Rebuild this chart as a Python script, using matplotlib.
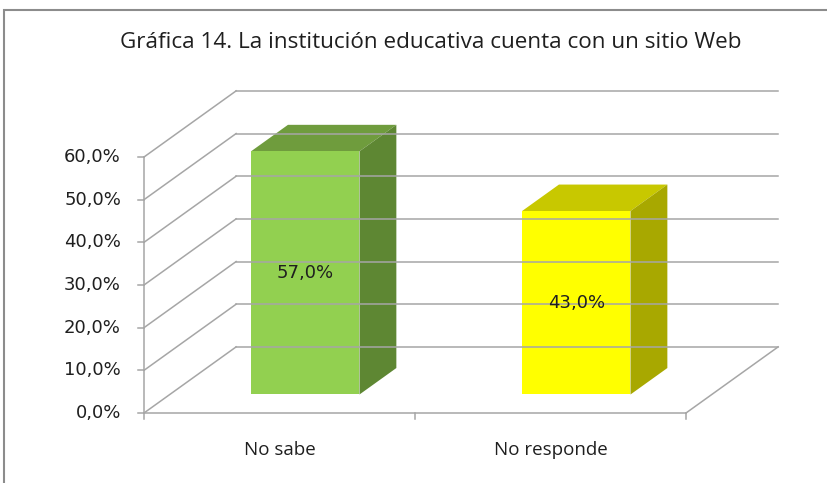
import matplotlib.pyplot as plt
from matplotlib.patches import Polygon, Rectangle

# Data
categories = ["No sabe", "No responde"]
values = [57.0, 43.0]
front_colors = ["#92D050", "#FFFF00"]
side_colors = ["#5E8733", "#A8A800"]
top_colors = ["#6F9C3D", "#C8C800"]
yticks = [0, 10, 20, 30, 40, 50, 60]
title = "Gráfica 14. La institución educativa cuenta con un sitio Web"

plt.rcParams['font.family'] = ['Open Sans', 'DejaVu Sans']

fig = plt.figure(figsize=(8.27, 4.83), dpi=100)
ax = fig.add_axes([144 / 827, 70 / 483, 542 / 827, 256 / 483])
ax.set_xlim(0, len(categories))
ax.set_ylim(0, 60)
ax.axis("off")

# oblique depth offset (data units)
DX, DY = 0.34, 15.5
grid_c = "#A6A6A6"
txt_c = "#1F1F1F"

# back wall gridlines + left wall diagonals
for v in yticks:
    ax.plot([DX, len(categories) + DX], [v + DY, v + DY], color=grid_c, lw=1.1, clip_on=False)
    ax.plot([0, DX], [v, v + DY], color=grid_c, lw=1.1, clip_on=False)
    ax.plot([-0.022, 0], [v, v], color=grid_c, lw=1.1, clip_on=False)
    ax.text(-0.085, v, f"{v:.1f}%".replace(".", ","), ha="right", va="center",
            fontsize=13, color=txt_c, family="DejaVu Sans")

# floor right edge, front axes
ax.plot([len(categories), len(categories) + DX], [0, DY], color=grid_c, lw=1.1, clip_on=False)
ax.plot([0, 0], [0, 60], color=grid_c, lw=1.1, clip_on=False)
ax.plot([0, len(categories)], [0, 0], color=grid_c, lw=1.1, clip_on=False)
for i in range(len(categories) + 1):
    ax.plot([i, i], [0, -1.4], color=grid_c, lw=1.1, clip_on=False)

# 3D bars
w = 0.2
d0, d1 = 0.28, 0.68
for i, (cat, val) in enumerate(zip(categories, values)):
    cx = i + 0.5 + d0 * DX
    by = d0 * DY
    ox, oy = (d1 - d0) * DX, (d1 - d0) * DY
    x0, x1 = cx - w, cx + w
    y0, y1 = by, by + val
    ax.add_patch(Polygon([(x0, y1), (x1, y1), (x1 + ox, y1 + oy), (x0 + ox, y1 + oy)],
                         closed=True, fc=top_colors[i], ec="none", clip_on=False))
    ax.add_patch(Polygon([(x1, y0), (x1 + ox, y0 + oy), (x1 + ox, y1 + oy), (x1, y1)],
                         closed=True, fc=side_colors[i], ec="none", clip_on=False))
    ax.add_patch(Rectangle((x0, y0), 2 * w, val, fc=front_colors[i], ec="none", clip_on=False))
    ax.text(cx, y0 + val / 2, f"{val:.1f}%".replace(".", ","), ha="center", va="center",
            fontsize=13, color=txt_c, family="DejaVu Sans")
    ax.text(i + 0.5, -8.7, cat, ha="center", va="center", fontsize=13.5, color=txt_c)

fig.text(431 / 827, 1 - 42 / 483, title, ha="center", va="center", fontsize=16.2, color=txt_c)

# outer chart frame (cut off at right and bottom)
fig.add_artist(Rectangle((4 / 827, -0.1), 1.2, 1.1 - 10 / 483, transform=fig.transFigure,
                         fill=False, ec="#8C8C8C", lw=1.5))

fig.savefig("out.png", dpi=100)
